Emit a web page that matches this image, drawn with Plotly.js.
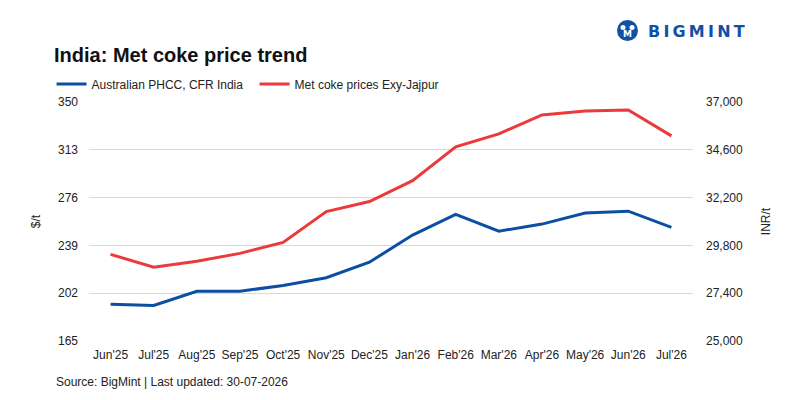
<!DOCTYPE html>
<html>
<head>
<meta charset="utf-8">
<script src="https://cdn.plot.ly/plotly-3.0.1.min.js"></script>
<style>html,body{margin:0;padding:0;background:#fff}#chart{width:800px;height:400px}</style>
</head>
<body>
<div id="chart"></div>
<script>
const months = ["Jun'25","Jul'25","Aug'25","Sep'25","Oct'25","Nov'25","Dec'25","Jan'26","Feb'26","Mar'26","Apr'26","May'26","Jun'26","Jul'26"];
const phccUsd = [193.5, 192.5, 203.5, 203.5, 208, 214, 226, 247, 263, 250, 255.5, 264, 265.5, 253];
const cokeInr = [29350, 28700, 29000, 29400, 29950, 31500, 32000, 33050, 34750, 35400, 36350, 36550, 36600, 35300];
const leftTicks = [165, 202, 239, 276, 313, 350];
const rightTicks = [25000, 27400, 29800, 32200, 34600, 37000];

const FONT = 'Liberation Sans, Arial, sans-serif';
const BLUE = '#0b4fa3';
const RED = '#ec3a3a';

const traces = [
  {x: months, y: phccUsd, name: 'Australian PHCC, CFR India', type: 'scatter', mode: 'lines',
   line: {color: BLUE, width: 3}, yaxis: 'y'},
  {x: months, y: cokeInr, name: 'Met coke prices Exy-Jajpur', type: 'scatter', mode: 'lines',
   line: {color: RED, width: 3}, yaxis: 'y2'}
];

const layout = {
  width: 800, height: 400,
  margin: {l: 89, r: 107, t: 102, b: 59},
  paper_bgcolor: '#fff', plot_bgcolor: '#fff',
  font: {family: FONT, size: 12, color: '#222'},
  title: {text: 'India: Met coke price trend', xref: 'container', yref: 'container',
          x: 54/800, xanchor: 'left', y: 1 - 55/400, yanchor: 'middle',
          font: {family: FONT, size: 20, color: '#111', weight: 'bold'}},
  showlegend: true,
  legend: {orientation: 'h', x: -0.062, xanchor: 'left', y: 1.075, yanchor: 'middle',
           font: {family: FONT, size: 12, color: '#222'}, entrywidth: 158, entrywidthmode: 'pixels',
           itemwidth: 30, bgcolor: 'rgba(0,0,0,0)', tracegroupgap: 0},
  xaxis: {type: 'category', range: [-0.5, 13.5], showgrid: false, zeroline: false, showline: false,
          ticks: '', tickfont: {family: FONT, size: 12, color: '#222'}, ticklabelstandoff: 5,
          fixedrange: true},
  yaxis: {range: [165, 350], tickvals: leftTicks, ticktext: leftTicks.map(String),
          showgrid: true, gridcolor: '#d9d9d9', gridwidth: 1, zeroline: false, showline: false,
          ticks: '', ticklabelstandoff: 10, tickfont: {family: FONT, size: 12, color: '#222'},
          title: {text: '$/t', font: {family: FONT, size: 12, color: '#222'}, standoff: 14}},
  yaxis2: {range: [25000, 37000], tickvals: rightTicks, tickformat: ',', overlaying: 'y', side: 'right',
           showgrid: false, zeroline: false, showline: false, ticks: '', ticklabelstandoff: 12,
           tickfont: {family: FONT, size: 12, color: '#222'},
           title: {text: 'INR/t', font: {family: FONT, size: 12, color: '#222'}, standoff: 19}},
  shapes: [
    {type: 'circle', xref: 'paper', yref: 'paper', x0: (617-89)/604, x1: (638-89)/604,
     y0: (341-41)/239, y1: (341-20)/239, fillcolor: '#1250a5', line: {width: 0}},
    {type: 'circle', xref: 'paper', yref: 'paper', x0: (620.5-89)/604, x1: (625.5-89)/604,
     y0: (341-30)/239, y1: (341-25)/239, fillcolor: '#fff', line: {width: 0}},
    {type: 'circle', xref: 'paper', yref: 'paper', x0: (629.5-89)/604, x1: (634.5-89)/604,
     y0: (341-30)/239, y1: (341-25)/239, fillcolor: '#fff', line: {width: 0}}
  ],
  annotations: [
    {text: 'Source: BigMint | Last updated: 30-07-2026', xref: 'paper', yref: 'paper',
     x: (54-89)/604, xanchor: 'left', y: (341-382)/239, yanchor: 'middle', showarrow: false,
     font: {family: FONT, size: 12, color: '#222'}},
    {text: '<b>M</b>', xref: 'paper', yref: 'paper', x: (627.5-89)/604, xanchor: 'center',
     y: (341-34)/239, yanchor: 'middle', showarrow: false,
     font: {family: 'DejaVu Sans, sans-serif', size: 9, color: '#fff'}},
    {text: '<b>B\u2009I\u2009G\u2009M\u2009I\u2009N\u2009T</b>', xref: 'paper', yref: 'paper', x: (646-89)/604, xanchor: 'left',
     y: (341-31)/239, yanchor: 'middle', showarrow: false,
     font: {family: 'DejaVu Sans, sans-serif', size: 16, color: '#1250a5'}}
  ]
};

Plotly.newPlot('chart', traces, layout, {displayModeBar: false, staticPlot: true});
</script>
</body>
</html>
